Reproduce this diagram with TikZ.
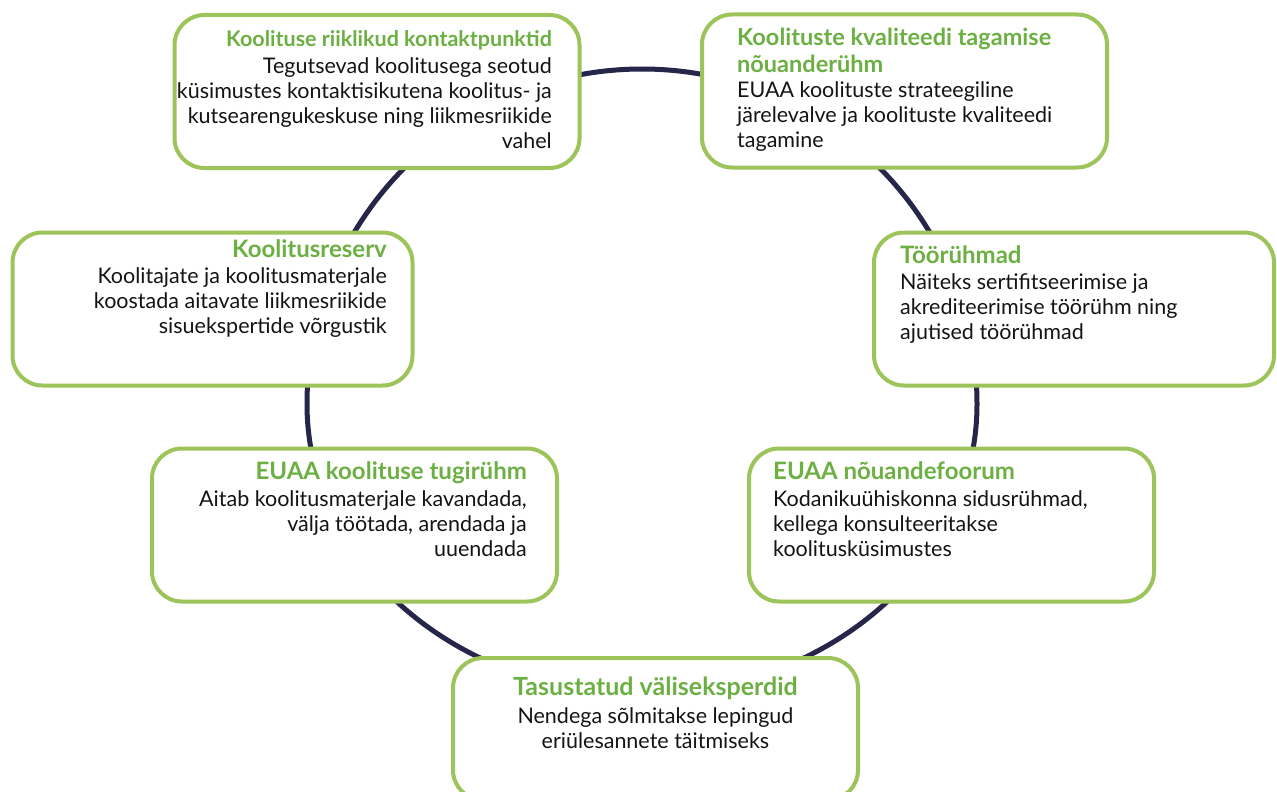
\documentclass[tikz,border=0pt]{standalone}
\usepackage{fontspec}
\setmainfont{Lato}
\definecolor{boxgreen}{HTML}{9DC35B}
\definecolor{titlegreen}{HTML}{6CB043}
\definecolor{ringnavy}{HTML}{25264A}
\definecolor{bodytext}{HTML}{141414}
\tikzset{
  card/.style={draw=boxgreen, line width=4pt, fill=white, rounded corners=30pt,
    minimum width=405pt, minimum height=153pt, inner sep=0pt},
  cardtext/.style={inner sep=0pt, font=\fontsize{21.5}{25}\selectfont, text=bodytext},
  ring/.style={draw=ringnavy, line width=5pt},
}
\newcommand{\cardtitle}[2][24]{{\color{titlegreen}\fontsize{#1}{25}\selectfont\bfseries #2}}
\begin{document}
\begin{tikzpicture}[x=1pt,y=-1pt]
\useasboundingbox (0,0) rectangle (1277,792);
% ring
\draw[ring] (307,404) arc[start angle=180,end angle=360,radius=335]
  arc[start angle=0,end angle=180,x radius=335,y radius=290];
% cards
\node[card] (b1) at (377,91.5) {};
\node[card] (b2) at (904.5,91) {};
\node[card, minimum width=400pt] (b3) at (212.5,309) {};
\node[card, minimum width=400pt] (b4) at (1074,309) {};
\node[card] (b5) at (354.5,525) {};
\node[card] (b6) at (951.5,525) {};
\node[card, minimum height=142pt] (b7) at (655.5,729) {};
% texts (anchored at the baseline of the last line)
\node[cardtext, align=right, anchor=base east] (t1) at (552,148)
  {\cardtitle[21.5]{Koolituse riiklikud kontaktpunktid}\\[2pt]
   Tegutsevad koolitusega seotud\\
   küsimustes kontaktisikutena koolitus- ja\\
   kutsearengukeskuse ning liikmesriikide\\
   vahel};
\node[cardtext, align=left, anchor=base west] (t2) at (737,147)
  {\cardtitle[23.5]{Koolituste kvaliteedi tagamise}\\[2pt]
   \cardtitle[23.5]{nõuanderühm}\\
   EUAA koolituste strateegiline\\
   järelevalve ja koolituste kvaliteedi\\
   tagamine};
\node[cardtext, align=right, anchor=base east] (t3) at (387,333)
  {\cardtitle{Koolitusreserv}\\[1pt]
   Koolitajate ja koolitusmaterjale\\
   koostada aitavate liikmesriikide\\
   sisuekspertide võrgustik};
\node[cardtext, align=left, anchor=base west] (t4) at (900,339)
  {\cardtitle{Töörühmad}\\[1pt]
   Näiteks sertifitseerimise ja\\
   akrediteerimise töörühm ning\\
   ajutised töörühmad};
\node[cardtext, align=right, anchor=base east] (t5) at (527,556)
  {\cardtitle{EUAA koolituse tugirühm}\\[2pt]
   Aitab koolitusmaterjale kavandada,\\
   välja töötada, arendada ja\\
   uuendada};
\node[cardtext, align=left, anchor=base west] (t6) at (773,556)
  {\cardtitle{EUAA nõuandefoorum}\\[2pt]
   Kodanikuühiskonna sidusrühmad,\\
   kellega konsulteeritakse\\
   koolitusküsimustes};
\node[cardtext, align=center, anchor=base] (t7) at (655.5,748)
  {\cardtitle[25]{Tasustatud väliseksperdid}\\[3pt]
   Nendega sõlmitakse lepingud\\
   eriülesannete täitmiseks};
\end{tikzpicture}
\end{document}
